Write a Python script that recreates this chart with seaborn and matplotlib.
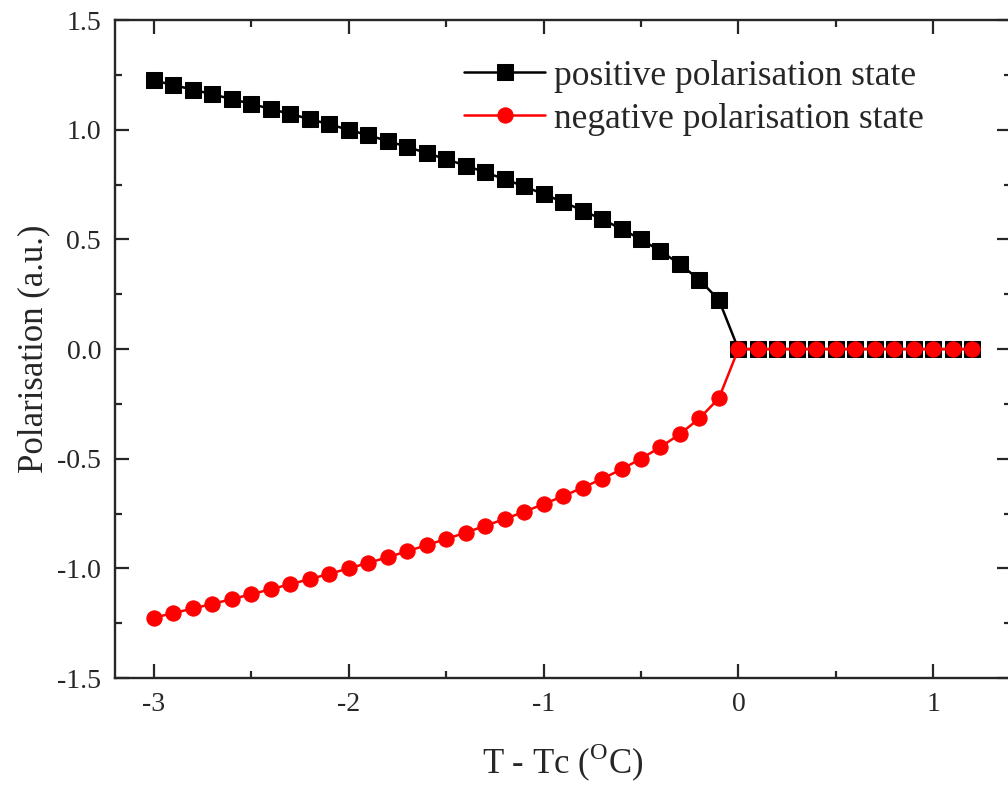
import matplotlib
matplotlib.use("Agg")
import matplotlib.pyplot as plt
from matplotlib.ticker import MultipleLocator
import seaborn as sns
import pandas as pd

# Reduced temperature T - Tc (°C)
temperature = [-3.0, -2.9, -2.8, -2.7, -2.6, -2.5, -2.4, -2.3, -2.2, -2.1,
               -2.0, -1.9, -1.8, -1.7, -1.6, -1.5, -1.4, -1.3, -1.2, -1.1,
               -1.0, -0.9, -0.8, -0.7, -0.6, -0.5, -0.4, -0.3, -0.2, -0.1,
               0.0, 0.1, 0.2, 0.3, 0.4, 0.5, 0.6, 0.7, 0.8, 0.9, 1.0, 1.1, 1.2]

# Polarisation of the positive branch (a.u.)
positive = [1.225, 1.204, 1.183, 1.162, 1.140, 1.118, 1.095, 1.072, 1.049, 1.025,
            1.000, 0.975, 0.949, 0.922, 0.894, 0.866, 0.837, 0.806, 0.775, 0.742,
            0.707, 0.671, 0.632, 0.592, 0.548, 0.500, 0.447, 0.387, 0.316, 0.224,
            0.0, 0.0, 0.0, 0.0, 0.0, 0.0, 0.0, 0.0, 0.0, 0.0, 0.0, 0.0, 0.0]

# Polarisation of the negative branch (a.u.)
negative = [-1.225, -1.204, -1.183, -1.162, -1.140, -1.118, -1.095, -1.072, -1.049, -1.025,
            -1.000, -0.975, -0.949, -0.922, -0.894, -0.866, -0.837, -0.806, -0.775, -0.742,
            -0.707, -0.671, -0.632, -0.592, -0.548, -0.500, -0.447, -0.387, -0.316, -0.224,
            0.0, 0.0, 0.0, 0.0, 0.0, 0.0, 0.0, 0.0, 0.0, 0.0, 0.0, 0.0, 0.0]

series_labels = ["positive polarisation state", "negative polarisation state"]

sns.set_style("ticks")
plt.rcParams["font.family"] = ["Liberation Serif", "DejaVu Serif"]
plt.rcParams["mathtext.fontset"] = "custom"
plt.rcParams["mathtext.rm"] = "Liberation Serif"

df = pd.DataFrame({"T": temperature, "pos": positive, "neg": negative})

fig = plt.figure(figsize=(10.08, 7.85), dpi=100)
ax = fig.add_axes([0.1141, 0.1363, 0.889, 0.838])

sns.lineplot(data=df, x="T", y="pos", ax=ax, color="black", marker="s",
             markersize=11.5, markeredgecolor="black", linewidth=1.8,
             label=series_labels[0])
sns.lineplot(data=df, x="T", y="neg", ax=ax, color="#ff0000", marker="o",
             markersize=11, markeredgecolor="#ff0000", linewidth=1.8,
             label=series_labels[1])

ax.set_xlim(-3.2, 1.4)
ax.set_ylim(-1.5, 1.5)
ax.xaxis.set_minor_locator(MultipleLocator(0.5))
ax.yaxis.set_minor_locator(MultipleLocator(0.25))
ax.set_xticks([-3, -2, -1, 0, 1])
ax.set_xticklabels(["-3", "-2", "-1", "0", "1"])
ax.set_yticks([-1.5, -1.0, -0.5, 0.0, 0.5, 1.0, 1.5])
ax.set_yticklabels(["-1.5", "-1.0", "-0.5", "0.0", "0.5", "1.0", "1.5"])

ax.tick_params(which="both", direction="in", top=True, right=True,
               width=1.6, labelsize=20, pad=10)
ax.tick_params(which="major", length=10)
ax.tick_params(which="minor", length=5)
for s in ax.spines.values():
    s.set_linewidth(1.7)
    s.set_visible(True)

ax.set_xlabel("T - Tc ($^{\\mathrm{O}}$C)", fontsize=25, labelpad=18)
ax.set_ylabel("Polarisation (a.u.)", fontsize=25, labelpad=5)

leg = ax.legend(loc="upper left", bbox_to_anchor=(0.39, 0.94), frameon=False,
                fontsize=25.5, handlelength=2.26, handletextpad=0.28,
                labelspacing=0.28, borderaxespad=0, borderpad=0)

fig.savefig("out.png", dpi=100)
